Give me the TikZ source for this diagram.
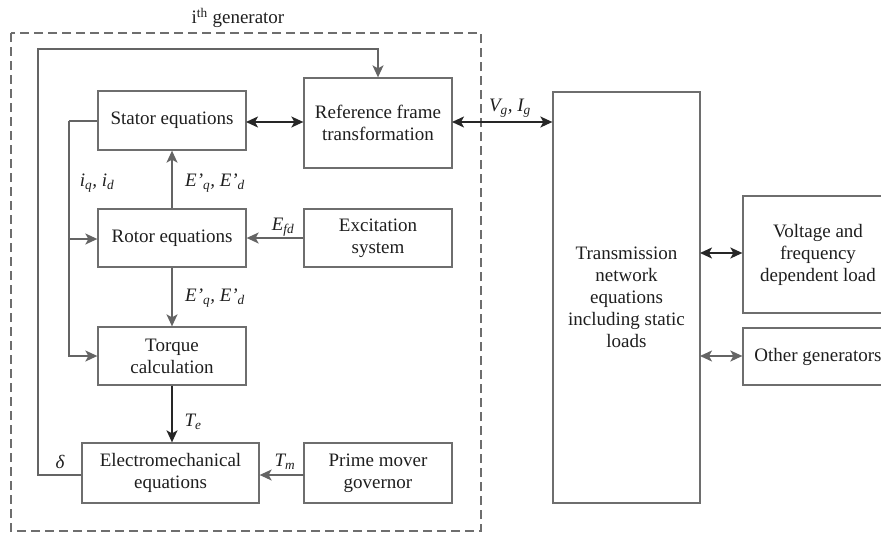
\documentclass[tikz,border=0pt]{standalone}
\usepackage{fontspec}
\setmainfont{Liberation Serif}
\usetikzlibrary{arrows.meta}
\definecolor{boxgray}{RGB}{110,110,110}
\definecolor{linegray}{RGB}{100,100,100}
\definecolor{txt}{RGB}{30,30,30}
\tikzset{
  tip/.tip={Stealth[length=12pt,width=11pt,inset=3pt]},
  blk/.style={draw=boxgray, line width=1.3pt, align=center, text=txt, inner sep=0pt,
    font=\fontsize{19}{22}\selectfont},
  lbl/.style={text=txt, inner sep=0pt, font=\fontsize{19}{22}\selectfont\itshape},
  gline/.style={draw=linegray, line width=1.5pt},
  garrow/.style={gline, -tip},
  gdarrow/.style={gline, tip-tip},
  barrow/.style={draw=black!85, line width=1.5pt, -tip},
  bdarrow/.style={draw=black!85, line width=1.5pt, tip-tip},
  frame/.style={draw=boxgray, line width=1.3pt, dash pattern=on 9pt off 5pt}
}
\begin{document}
\begin{tikzpicture}[x=1pt,y=-1pt]
\useasboundingbox (0,0) rectangle (881,533);
% dashed generator frame
\draw[frame] (11,33) rectangle (481,531);
\node[lbl, font=\fontsize{19}{22}\selectfont] (title) at (238,18) {i\textsuperscript{th} generator};
% blocks
\node[blk, minimum width=148pt, minimum height=90pt] (ref) at (378,123) {Reference frame\\transformation};
\node[blk, minimum width=148pt, minimum height=59pt] (stator) at (172,120.5) {Stator equations};
\node[blk, minimum width=148pt, minimum height=58pt] (rotor) at (172,238) {Rotor equations};
\node[blk, minimum width=148pt, minimum height=58pt] (exc) at (378,238) {Excitation\\system};
\node[blk, minimum width=148pt, minimum height=58pt] (torque) at (172,356) {Torque\\calculation};
\node[blk, minimum width=177pt, minimum height=60pt] (elec) at (170.5,473) {Electromechanical\\equations};
\node[blk, minimum width=148pt, minimum height=60pt] (prime) at (378,473) {Prime mover\\governor};
\node[blk, minimum width=147pt, minimum height=411pt] (trans) at (626.5,297.5) {Transmission\\network\\equations\\including static\\loads};
\node[blk, minimum width=150pt, minimum height=117pt] (volt) at (818,254.5) {Voltage and\\frequency\\dependent load};
\node[blk, minimum width=150pt, minimum height=57pt] (other) at (818,356.5) {Other generators};
% feedback delta line
\coordinate (dl) at (38,475);
\coordinate (dt) at (38,49);
\draw[garrow] (elec.west |- dl) -- (dl) -- (dt) -| (ref.north);
\node[lbl] (delta) at (60,462) {δ};
% stator current line
\coordinate (sl) at (69,121);
\coordinate (sb) at (69,239);
\draw[gline] (stator.west |- sl) -- (sl);
\draw[garrow] (sl) |- (torque.west);
\draw[garrow] (sb) -- (rotor.west |- sb);
\node[lbl] (iqid) at (97,183) {i\textsubscript{q}, i\textsubscript{d}};
% rotor to stator / torque
\draw[garrow] (rotor.north) -- (stator.south);
\node[lbl] (e1) at (215,183) {E’\textsubscript{q}, E’\textsubscript{d}};
\draw[garrow] (rotor.south) -- (torque.north);
\node[lbl] (e2) at (215,298) {E’\textsubscript{q}, E’\textsubscript{d}};
% torque to electromech
\draw[barrow] (torque.south) -- (torque.south |- elec.north);
\node[lbl] (te) at (193,422) {T\textsubscript{e}};
% excitation
\draw[garrow] (exc.west) -- (rotor.east);
\node[lbl] (efd) at (283,227) {E\textsubscript{fd}};
% prime mover
\coordinate (pm) at (304,475);
\draw[garrow] (pm) -- (elec.east |- pm);
\node[lbl] (tm) at (285,462) {T\textsubscript{m}};
% stator <-> ref
\coordinate (sr) at (246,122);
\draw[bdarrow] (sr) -- (sr -| ref.west);
% ref <-> trans
\coordinate (rt) at (452,122);
\draw[bdarrow] (rt) -- (rt -| trans.west);
\node[lbl] (vg) at (510,108) {V\textsubscript{g}, I\textsubscript{g}};
% trans <-> loads
\coordinate (tv) at (700,253);
\draw[bdarrow] (tv) -- (tv -| volt.west);
\coordinate (to) at (700,356);
\draw[gdarrow] (to) -- (to -| other.west);
\end{tikzpicture}
\end{document}
